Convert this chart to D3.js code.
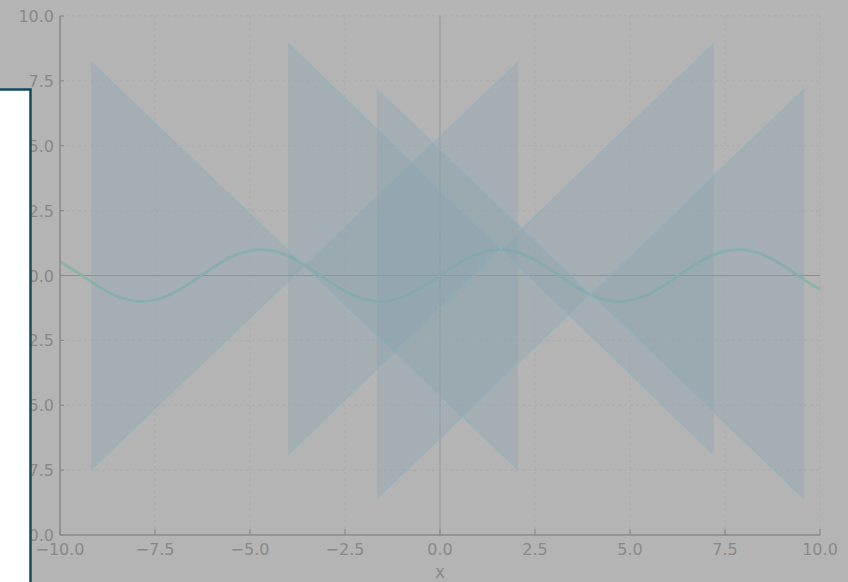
<!DOCTYPE html>
<html>
<head>
<meta charset="utf-8">
<script src="https://cdn.jsdelivr.net/npm/d3@7"></script>
<style>
  html, body { margin: 0; padding: 0; background: #b4b4b4; }
  svg { display: block; }
  text { font-family: "DejaVu Sans", sans-serif; }
</style>
</head>
<body>
<svg id="chart" width="848" height="582"></svg>
<script>
// ---- data ----
const xTicks = [-10, -7.5, -5, -2.5, 0, 2.5, 5, 7.5, 10];
const yTicks = [-10, -7.5, -5, -2.5, 0, 2.5, 5, 7.5, 10];
const xTickLabels = ["\u221210.0", "\u22127.5", "\u22125.0", "\u22122.5", "0.0", "2.5", "5.0", "7.5", "10.0"];
const yTickLabels = ["\u221210.0", "\u22127.5", "\u22125.0", "\u22122.5", "0.0", "2.5", "5.0", "7.5", "10.0"];

// bow-tie shaded regions (between two crossing lines)
const bowStart  = [-9.18, -4.00, -1.66];
const bowEnd    = [ 2.05,  7.21,  9.58];
const bowTop    = [ 8.23,  8.96,  7.19];
const bowBottom = [-7.49, -6.92, -8.61];

// wave line values
const waveX = [-10,-9.5,-9,-8.5,-8,-7.5,-7,-6.5,-6,-5.5,-5,-4.5,-4,-3.5,-3,-2.5,-2,-1.5,-1,-0.5,0,
               0.5,1,1.5,2,2.5,3,3.5,4,4.5,5,5.5,6,6.5,7,7.5,8,8.5,9,9.5,10];
const waveY = [0.54,0.08,-0.41,-0.80,-0.99,-0.94,-0.66,-0.22,0.28,0.71,0.96,0.98,0.76,0.35,-0.14,-0.60,-0.91,-1.00,-0.84,-0.48,0.00,
               0.48,0.84,1.00,0.91,0.60,0.14,-0.35,-0.76,-0.98,-0.96,-0.71,-0.28,0.22,0.66,0.94,0.99,0.80,0.41,-0.08,-0.54];

// ---- drawing ----
const svg = d3.select("#chart");
const x = d3.scaleLinear().domain([-10, 10]).range([60, 820]);
const y = d3.scaleLinear().domain([-10, 10]).range([535, 16]);

const textColor = "#888888";
const spineColor = "#8a8a8a";

// grid
const grid = svg.append("g");
grid.selectAll("line.gx").data(xTicks).join("line")
  .attr("x1", d => x(d)).attr("x2", d => x(d))
  .attr("y1", y(-10)).attr("y2", y(10))
  .attr("stroke", "#aaaaaa").attr("stroke-width", 0.8).attr("stroke-dasharray", "3,3");
grid.selectAll("line.gy").data(yTicks).join("line")
  .attr("x1", x(-10)).attr("x2", x(10))
  .attr("y1", d => y(d)).attr("y2", d => y(d))
  .attr("stroke", "#aaaaaa").attr("stroke-width", 0.8).attr("stroke-dasharray", "3,3");

// zero lines
svg.append("line").attr("x1", x(-10)).attr("x2", x(10)).attr("y1", y(0)).attr("y2", y(0))
  .attr("stroke", "#8c8c8c").attr("stroke-width", 1);
svg.append("line").attr("x1", x(0)).attr("x2", x(0)).attr("y1", y(-10)).attr("y2", y(10))
  .attr("stroke", "#9a9a9a").attr("stroke-width", 1);

// wave (under the shaded regions)
const wave = waveX.map((v, i) => [v, waveY[i]]);
svg.append("path")
  .attr("d", d3.line().x(d => x(d[0])).y(d => y(d[1])).curve(d3.curveCatmullRom)(wave))
  .attr("fill", "none").attr("stroke", "#88b4a9").attr("stroke-opacity", 0.95).attr("stroke-width", 2.8);

// bow ties
const bows = d3.range(bowStart.length).map(i => ({
  x0: bowStart[i], x1: bowEnd[i], top: bowTop[i], bot: bowBottom[i]
}));
const area = d3.area().x(d => x(d.x)).y0(d => y(d.a)).y1(d => y(d.b));
const g = svg.append("g");
bows.forEach(b => {
  const pts = [{x: b.x0, a: b.top, b: b.bot}, {x: b.x1, a: b.bot, b: b.top}];
  g.append("path").attr("d", area(pts))
    .attr("fill", "#84a3ae").attr("fill-opacity", 0.3).attr("stroke", "none");
  const line = d3.line().x(d => x(d[0])).y(d => y(d[1]));
  g.append("path").attr("d", line([[b.x0, b.top], [b.x1, b.bot]]))
    .attr("fill", "none").attr("stroke", "#92b4c0").attr("stroke-opacity", 0.8).attr("stroke-width", 1.2);
  g.append("path").attr("d", line([[b.x0, b.bot], [b.x1, b.top]]))
    .attr("fill", "none").attr("stroke", "#92b4c0").attr("stroke-opacity", 0.8).attr("stroke-width", 1.2);
});

// spines
svg.append("line").attr("x1", x(-10)).attr("x2", x(-10)).attr("y1", y(-10)).attr("y2", y(10))
  .attr("stroke", spineColor).attr("stroke-width", 1.5);
svg.append("line").attr("x1", x(-10)).attr("x2", x(10)).attr("y1", y(-10)).attr("y2", y(-10))
  .attr("stroke", spineColor).attr("stroke-width", 1.5);

// ticks
svg.selectAll("line.tx").data(xTicks).join("line")
  .attr("x1", d => x(d)).attr("x2", d => x(d)).attr("y1", y(-10)).attr("y2", y(-10) - 6)
  .attr("stroke", spineColor).attr("stroke-width", 1.2);
svg.selectAll("line.ty").data(yTicks).join("line")
  .attr("x1", x(-10)).attr("x2", x(-10) + 4).attr("y1", d => y(d)).attr("y2", d => y(d))
  .attr("stroke", spineColor).attr("stroke-width", 1.2);

// tick labels
svg.selectAll("text.tx").data(xTicks).join("text")
  .attr("x", d => x(d)).attr("y", 555)
  .attr("text-anchor", "middle").attr("font-size", 16).attr("fill", textColor)
  .text((d, i) => xTickLabels[i]);
svg.selectAll("text.ty").data(yTicks).join("text")
  .attr("x", 54).attr("y", d => y(d) + 6)
  .attr("text-anchor", "end").attr("font-size", 16).attr("fill", textColor)
  .text((d, i) => yTickLabels[i]);

// axis label
svg.append("text").attr("x", x(0)).attr("y", 578)
  .attr("text-anchor", "middle").attr("font-size", 17).attr("fill", textColor).text("x");

// white box overlay at left
svg.append("rect").attr("x", -10).attr("y", 89.5).attr("width", 40.5).attr("height", 520)
  .attr("fill", "#ffffff").attr("stroke", "#16495a").attr("stroke-width", 2.5);
</script>
</body>
</html>
